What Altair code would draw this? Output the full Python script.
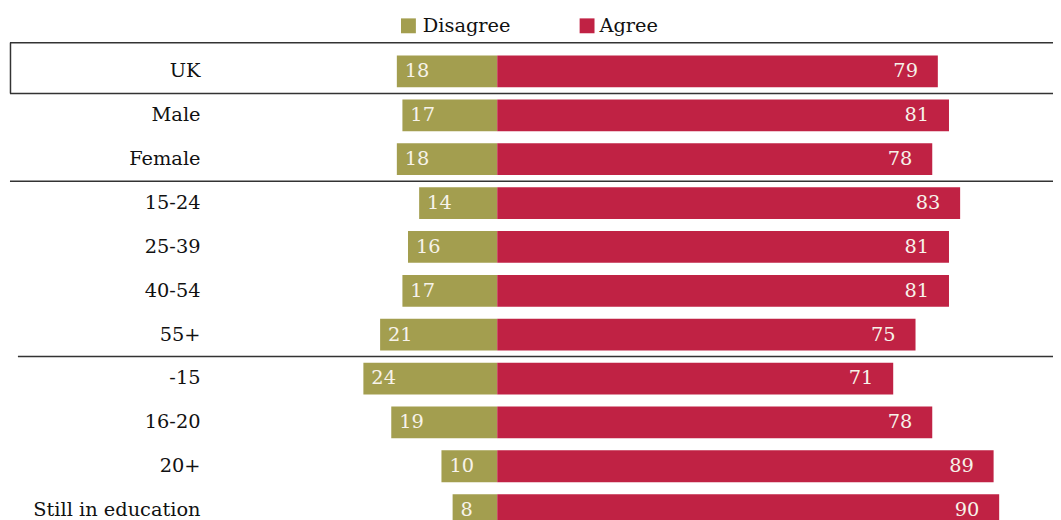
import altair as alt
import pandas as pd

categories = ["UK", "Male", "Female", "15-24", "25-39", "40-54", "55+",
              "-15", "16-20", "20+", "Still in education"]
disagree = [18, 17, 18, 14, 16, 17, 21, 24, 19, 10, 8]
agree = [79, 81, 78, 83, 81, 81, 75, 71, 78, 89, 90]
series = ["Disagree", "Agree"]
colors = ["#A39E4F", "#C02244"]

FONT = "DejaVu Serif"
FS = 19.5
W, H = 1053, 512
PX_PER_UNIT_Y = 44.2

rows = []
for i, (c, d, a) in enumerate(zip(categories, disagree, agree)):
    rows.append({"cat": c, "idx": i, "series": "Disagree", "value": d, "start": -d, "end": 0})
    rows.append({"cat": c, "idx": i, "series": "Agree", "value": a, "start": 0, "end": a})
df = pd.DataFrame(rows)
cats = pd.DataFrame({"cat": categories, "idx": list(range(len(categories)))})

y0 = -1.4027
xscale = alt.Scale(domain=[-87.72, 99.65], nice=False, zero=False, padding=0)
yscale = alt.Scale(domain=[y0, y0 + H / PX_PER_UNIT_Y], nice=False, zero=False,
                   reverse=True, padding=0)
X = lambda f: alt.X(f, scale=xscale, axis=None)
Y = lambda f: alt.Y(f, scale=yscale, axis=None)

bars = alt.Chart(df).mark_bar(size=32).encode(
    x=X("start:Q"), x2="end:Q", y=Y("idx:Q"),
    color=alt.Color("series:N", scale=alt.Scale(domain=series, range=colors), legend=None),
)

dis_lab = alt.Chart(df).transform_filter(alt.datum.series == "Disagree").mark_text(
    align="left", baseline="middle", dx=8, font=FONT, fontSize=FS, color="#F7F3EA"
).encode(x=X("start:Q"), y=Y("idx:Q"), text="value:Q")

agr_lab = alt.Chart(df).transform_filter(alt.datum.series == "Agree").mark_text(
    align="right", baseline="middle", dx=-20, font=FONT, fontSize=FS, color="#F7F3EA"
).encode(x=X("end:Q"), y=Y("idx:Q"), text="value:Q")

cat_lab = alt.Chart(cats).mark_text(
    align="right", baseline="middle", font=FONT, fontSize=FS, color="#111111"
).encode(x=alt.value(194), y=Y("idx:Q"), text="cat:N")

# UK box (open at the right, like the reference) and group separators
box_df = pd.DataFrame({"y": [-0.656, 0.5]})
box_lines = alt.Chart(box_df).mark_rule(stroke="#333333", strokeWidth=1.5).encode(
    x=alt.value(2), x2=alt.value(W), y=Y("y:Q")
)
box_side = alt.Chart(pd.DataFrame({"y0": [-0.656], "y1": [0.5]})).mark_rule(
    stroke="#333333", strokeWidth=1.5
).encode(x=alt.value(2.5), y=Y("y0:Q"), y2="y1:Q")
sep_df = pd.DataFrame({"y": [2.5, 6.5]})
seps = alt.layer(
    alt.Chart(sep_df.iloc[[0]]).mark_rule(stroke="#333333", strokeWidth=1.5).encode(
        x=alt.value(2), x2=alt.value(W), y=Y("y:Q")),
    alt.Chart(sep_df.iloc[[1]]).mark_rule(stroke="#333333", strokeWidth=1.5).encode(
        x=alt.value(10), x2=alt.value(W), y=Y("y:Q")),
)

# legend
leg_df = pd.DataFrame({"series": series, "px": [403.5, 583.5], "tx": [418, 596]})
leg_sym = alt.Chart(leg_df).mark_square(size=225, opacity=1).encode(
    x=alt.X("px:Q", scale=None, axis=None), y=alt.value(16),
    color=alt.Color("series:N", scale=alt.Scale(domain=series, range=colors), legend=None),
)
leg_txt = alt.Chart(leg_df).mark_text(
    align="left", baseline="middle", font=FONT, fontSize=FS, color="#111111"
).encode(x=alt.X("tx:Q", scale=None, axis=None), y=alt.value(16), text="series:N")

chart = alt.layer(box_lines, box_side, seps, bars, dis_lab, agr_lab, cat_lab,
                  leg_sym, leg_txt).resolve_scale(
    x="independent"
).properties(
    width=W, height=H, padding=0, autosize=alt.AutoSizeParams(type="none")
).configure_view(stroke=None)

chart.save("out.html", embed_options={"renderer": "svg", "actions": False})
